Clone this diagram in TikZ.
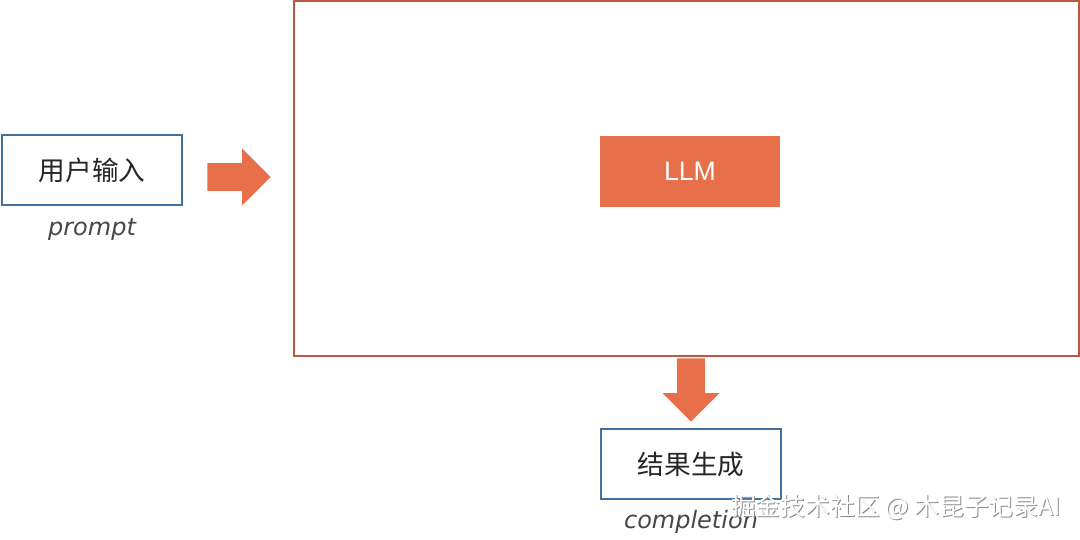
\documentclass[tikz,border=0pt]{standalone}
\usepackage{fontspec}
\setmainfont{Liberation Sans}
\newfontfamily\cjk{Noto Sans CJK SC}
\newfontfamily\hand{DejaVu Sans}
\usepackage{xcolor}
\usepackage{tikz}
\usetikzlibrary{arrows.meta,positioning,shapes.arrows}
\definecolor{BBlue}{HTML}{41719C}
\definecolor{BOrange}{HTML}{E7704B}
\definecolor{BFrame}{HTML}{BA5846}
\definecolor{BText}{HTML}{262626}

\begin{document}
\begin{tikzpicture}[x=0.75pt,y=-0.75pt,
  io/.style={draw=BBlue,line width=1.6pt,fill=white,minimum width=135pt,
    minimum height=52.5pt,inner sep=0pt,font=\cjk\fontsize{20}{24}\selectfont,text=BText},
  core/.style={fill=BOrange,minimum width=135pt,minimum height=53pt,inner sep=0pt,
    font=\fontsize{20}{24}\selectfont,text=white},
  frame/.style={draw=BFrame,line width=1.6pt,minimum width=588.75pt,
    minimum height=266.25pt,inner sep=0pt},
  tag/.style={font=\hand\itshape\fontsize{18}{21}\selectfont,text=BText!85},
  flow/.style={single arrow,fill=BOrange,minimum height=47.5pt,
    single arrow head extend=11pt,inner sep=0pt},
  wmark/.style={font=\cjk\fontsize{18.6}{22}\selectfont}
]
  \useasboundingbox (0,0) rectangle (1080,539);
  \node[frame] (model) at (686.5,178.5) {};
  \node[core] (llm) at (690,171.5) {LLM};
  \node[io] (prompt) at (92,170) {用户输入};
  \node[tag,below=6pt of prompt] (ptag) {prompt};
  \node[io] (result) at (691,464) {结果生成};
  \node[tag,below=4pt of result] (ctag) {completion};
  \node[flow,anchor=tail] (inarrow) at (207,177) {\phantom{\rule{20.25pt}{20.25pt}}};
  \node[flow,shape border rotate=270,anchor=tail] (outarrow) at (691,358)
    {\phantom{\rule{20.25pt}{20.25pt}}};
  % watermark
  \node[wmark,text=gray!90] at (897,508.5) {掘金技术社区 @ 木昆子记录AI};
  \node[wmark,text=white] at (896,507.5) {掘金技术社区 @ 木昆子记录AI};
\end{tikzpicture}
\end{document}
